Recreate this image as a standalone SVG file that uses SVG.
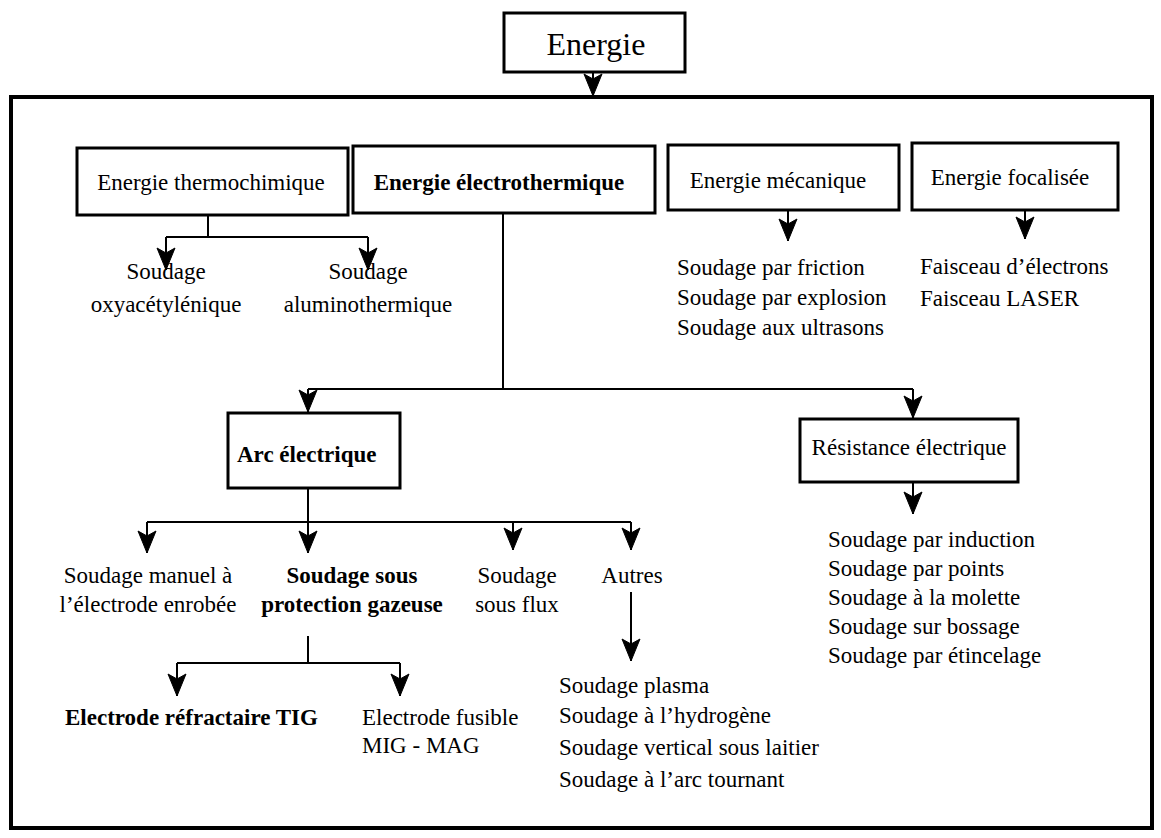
<svg xmlns="http://www.w3.org/2000/svg" width="1161" height="838" viewBox="0 0 1161 838">
<style>
text{font-family:"Liberation Serif","DejaVu Serif","Times New Roman",serif;font-size:23px;fill:#000}
.b{font-weight:bold}
.m{text-anchor:middle}
.box{fill:#fff;stroke:#000;stroke-width:3}
.ln{fill:none;stroke:#000;stroke-width:2}
</style>
<defs>
<marker id="ah" markerUnits="userSpaceOnUse" markerWidth="24" markerHeight="20" refX="22" refY="9" orient="auto" overflow="visible">
<path d="M0,0 L22,9 L0,18 L5,9 z" fill="#000" stroke="#000" stroke-width="1" stroke-linejoin="round"/>
</marker>
</defs>
<rect width="1161" height="838" fill="#fff"/>
<rect x="11" y="97" width="1141" height="731" fill="none" stroke="#000" stroke-width="4"/>
<g id="connectors">
<path class="ln" d="M593,72 V96" marker-end="url(#ah)"/>
<path class="ln" d="M208,215 V237 M166,237 H368"/>
<path class="ln" d="M166,237 V270" marker-end="url(#ah)"/>
<path class="ln" d="M368,237 V270" marker-end="url(#ah)"/>
<path class="ln" d="M503,213 V389 M308,389 H913"/>
<path class="ln" d="M308,389 V412" marker-end="url(#ah)"/>
<path class="ln" d="M913,389 V418" marker-end="url(#ah)"/>
<path class="ln" d="M788,210 V241" marker-end="url(#ah)"/>
<path class="ln" d="M1025,210 V239" marker-end="url(#ah)"/>
<path class="ln" d="M308,488 V522 M147,522 H631"/>
<path class="ln" d="M147,522 V553" marker-end="url(#ah)"/>
<path class="ln" d="M308,522 V553" marker-end="url(#ah)"/>
<path class="ln" d="M513,522 V550" marker-end="url(#ah)"/>
<path class="ln" d="M631,522 V550" marker-end="url(#ah)"/>
<path class="ln" d="M913,482 V514" marker-end="url(#ah)"/>
<path class="ln" d="M631,592 V661" marker-end="url(#ah)"/>
<path class="ln" d="M308,636 V663 M177,663 H400"/>
<path class="ln" d="M177,663 V696" marker-end="url(#ah)"/>
<path class="ln" d="M400,663 V696" marker-end="url(#ah)"/>
</g>
<g id="energie"><rect class="box" x="504" y="13" width="181" height="59"/><text class="m" x="596" y="55" style="font-size:32px">Energie</text></g>
<g id="thermochimique"><rect class="box" x="77" y="148" width="271" height="67"/><text class="m" x="211" y="190">Energie thermochimique</text></g>
<g id="electrothermique"><rect class="box" x="353" y="146" width="302" height="67"/><text class="m b" x="499" y="190">Energie électrothermique</text></g>
<g id="mecanique"><rect class="box" x="668" y="145" width="231" height="65"/><text class="m" x="778" y="188">Energie mécanique</text></g>
<g id="focalisee"><rect class="box" x="912" y="143" width="206" height="67"/><text class="m" x="1010" y="185">Energie focalisée</text></g>
<g id="oxy"><text class="m" x="166" y="279">Soudage</text><text class="m" x="166" y="312">oxyacétylénique</text></g>
<g id="alumino"><text class="m" x="368" y="279">Soudage</text><text class="m" x="368" y="312">aluminothermique</text></g>
<g id="meca-list"><text x="677" y="275">Soudage par friction</text><text x="677" y="305">Soudage par explosion</text><text x="677" y="335">Soudage aux ultrasons</text></g>
<g id="focal-list"><text x="920" y="274">Faisceau d’électrons</text><text x="920" y="306">Faisceau LASER</text></g>
<g id="arc"><rect class="box" x="228" y="413" width="172" height="75"/><text class="b" x="237" y="462">Arc électrique</text></g>
<g id="resistance"><rect class="box" x="800" y="419" width="218" height="63"/><text class="m" x="909" y="455">Résistance électrique</text></g>
<g id="res-list"><text x="828" y="547">Soudage par induction</text><text x="828" y="576">Soudage par points</text><text x="828" y="605">Soudage à la molette</text><text x="828" y="634">Soudage sur bossage</text><text x="828" y="663">Soudage par étincelage</text></g>
<g id="manuel"><text class="m" x="148" y="583">Soudage manuel à</text><text class="m" x="148" y="612">l’électrode enrobée</text></g>
<g id="gazeuse"><text class="m b" x="352" y="583">Soudage sous</text><text class="m b" x="352" y="612">protection gazeuse</text></g>
<g id="flux"><text class="m" x="517" y="583">Soudage</text><text class="m" x="517" y="612">sous flux</text></g>
<g id="autres"><text class="m" x="632" y="583">Autres</text></g>
<g id="autres-list"><text x="559" y="693">Soudage plasma</text><text x="559" y="723">Soudage à l’hydrogène</text><text x="559" y="755">Soudage vertical sous laitier</text><text x="559" y="787">Soudage à l’arc tournant</text></g>
<g id="tig"><text class="b" x="65" y="725">Electrode réfractaire TIG</text></g>
<g id="mig"><text x="362" y="725">Electrode fusible</text><text x="362" y="753">MIG - MAG</text></g>
</svg>
